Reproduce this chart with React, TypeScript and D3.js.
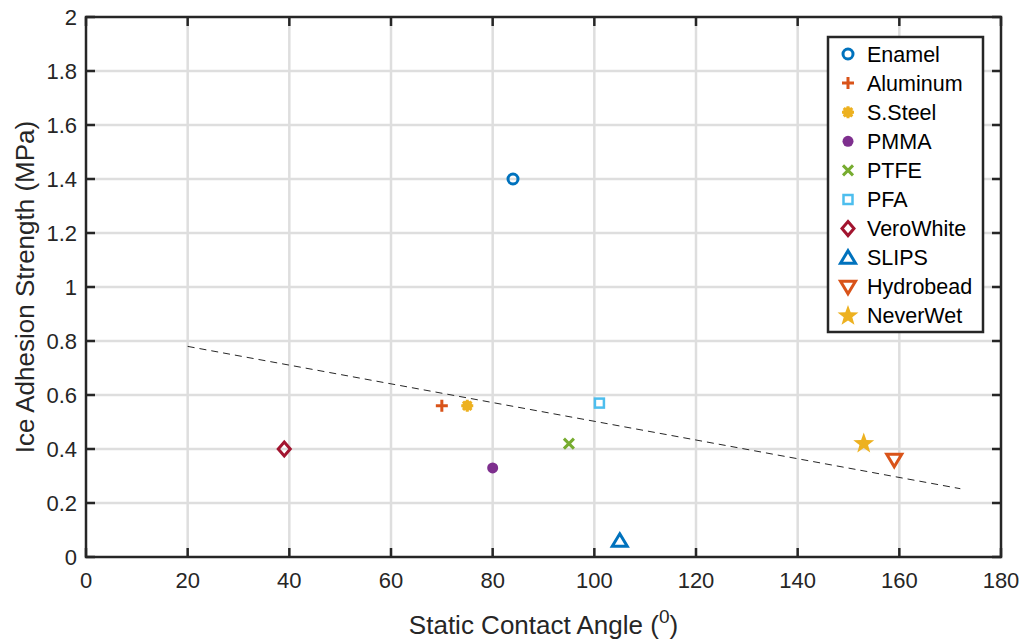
import React from "react";
import * as d3 from "d3";

const names = ["Enamel", "Aluminum", "S.Steel", "PMMA", "PTFE", "PFA", "VeroWhite", "SLIPS", "Hydrobead", "NeverWet"];
const angles = [84, 70, 75, 80, 95, 101, 39, 105, 159, 153];
const strengths = [1.40, 0.56, 0.56, 0.33, 0.42, 0.57, 0.40, 0.06, 0.36, 0.42];
const colors = ["#0072BD", "#D95319", "#EDB120", "#7E2F8E", "#77AC30", "#4DBEEE", "#A2142F", "#0072BD", "#D95319", "#EDB120"];
const markers = ["circle", "plus", "asterisk", "dot", "x", "square", "diamond", "triangle", "triangleDown", "star"];
const trendX = [20, 172];
const trendY = [0.78, 0.253];
const xTicks = [0, 20, 40, 60, 80, 100, 120, 140, 160, 180];
const yTicks = [0, 0.2, 0.4, 0.6, 0.8, 1, 1.2, 1.4, 1.6, 1.8, 2];

const W = 1028, H = 643;
const L = 86, R = 1001, T = 17, B = 557;
const font = "'Liberation Sans', Arial, Helvetica, sans-serif";
const axisColor = "#262626";

function Marker({ type, color, x, y }: { type: string; color: string; x: number; y: number }) {
  const t = `translate(${x},${y})`;
  switch (type) {
    case "circle":
      return <circle transform={t} r={5} fill="none" stroke={color} strokeWidth={3} />;
    case "plus":
      return <path transform={t} d="M-6,0H6M0,-6V6" stroke={color} strokeWidth={3} fill="none" />;
    case "asterisk": {
      const pts = d3.range(8).map((i) => {
        const a = (i * Math.PI) / 4;
        return `M0,0L${(6 * Math.cos(a)).toFixed(2)},${(6 * Math.sin(a)).toFixed(2)}`;
      }).join("");
      return (
        <g transform={t}>
          <circle r={5} fill={color} />
          <path d={pts} stroke={color} strokeWidth={3} />
        </g>
      );
    }
    case "dot":
      return <circle transform={t} r={5.5} fill={color} />;
    case "x":
      return <path transform={t} d="M-5,-5L5,5M-5,5L5,-5" stroke={color} strokeWidth={3} fill="none" />;
    case "square":
      return <rect transform={t} x={-4.5} y={-4.5} width={9} height={9} fill="none" stroke={color} strokeWidth={2.5} />;
    case "diamond":
      return <path transform={t} d="M0,-7L6,0L0,7L-6,0Z" fill="none" stroke={color} strokeWidth={3} />;
    case "triangle":
      return <path transform={t} d="M0,-7L7.5,5.5L-7.5,5.5Z" fill="none" stroke={color} strokeWidth={3} strokeLinejoin="miter" />;
    case "triangleDown":
      return <path transform={t} d="M0,7L7.5,-5.5L-7.5,-5.5Z" fill="none" stroke={color} strokeWidth={3} strokeLinejoin="miter" />;
    case "star": {
      const p = d3.range(10).map((i) => {
        const r = i % 2 === 0 ? 11 : 4.5;
        const a = -Math.PI / 2 + (i * Math.PI) / 5;
        return [r * Math.cos(a), r * Math.sin(a)] as [number, number];
      });
      return <path transform={t} d={d3.line()(p)! + "Z"} fill={color} />;
    }
  }
  return null;
}

export default function App() {
  const x = d3.scaleLinear().domain([0, 180]).range([L, R]);
  const y = d3.scaleLinear().domain([0, 2]).range([B, T]);
  const trend = d3.line<number>().x((d, i) => x(trendX[i])).y((d, i) => y(trendY[i]))(trendX)!;

  const legX = 828, legY = 37, legW = 155, legH = 295;
  const rowH = 29.1;

  return (
    <svg width={W} height={H} style={{ position: "absolute", left: 0, top: 0, background: "#fff" }} fontFamily={font}>
      <rect x={0} y={0} width={W} height={H} fill="#fff" />
      {/* grid */}
      {xTicks.slice(1, -1).map((v) => (
        <line key={"gx" + v} x1={x(v)} x2={x(v)} y1={T} y2={B} stroke="#dedede" strokeWidth={2.5} />
      ))}
      {yTicks.slice(1, -1).map((v) => (
        <line key={"gy" + v} x1={L} x2={R} y1={y(v)} y2={y(v)} stroke="#dedede" strokeWidth={2.5} />
      ))}
      {/* trend */}
      <path d={trend} stroke="#262626" strokeWidth={1} fill="none" strokeDasharray="7,5" />
      {/* points */}
      {names.map((n, i) => (
        <Marker key={n} type={markers[i]} color={colors[i]} x={x(angles[i])} y={y(strengths[i])} />
      ))}
      {/* ticks */}
      {xTicks.map((v) => (
        <g key={"tx" + v}>
          <line x1={x(v)} x2={x(v)} y1={B} y2={B - 9} stroke={axisColor} strokeWidth={2.5} />
          <line x1={x(v)} x2={x(v)} y1={T} y2={T + 9} stroke={axisColor} strokeWidth={2.5} />
          <text x={x(v)} y={B + 31} textAnchor="middle" fontSize={22} fill={axisColor}>{v}</text>
        </g>
      ))}
      {yTicks.map((v) => (
        <g key={"ty" + v}>
          <line x1={L} x2={L + 9} y1={y(v)} y2={y(v)} stroke={axisColor} strokeWidth={2.5} />
          <line x1={R} x2={R - 9} y1={y(v)} y2={y(v)} stroke={axisColor} strokeWidth={2.5} />
          <text x={L - 9} y={y(v) + 8} textAnchor="end" fontSize={22} fill={axisColor}>{String(v)}</text>
        </g>
      ))}
      {/* frame */}
      <rect x={L} y={T} width={R - L} height={B - T} fill="none" stroke={axisColor} strokeWidth={2.5} />
      {/* axis labels */}
      <text x={(L + R) / 2} y={634} textAnchor="middle" fontSize={26} fill={axisColor}>
        Static Contact Angle (<tspan dy={-11} fontSize={19}>0</tspan><tspan dy={11}>)</tspan>
      </text>
      <text transform={`translate(34,${(T + B) / 2}) rotate(-90)`} textAnchor="middle" fontSize={26} fill={axisColor}>
        Ice Adhesion Strength (MPa)
      </text>
      {/* legend */}
      <rect x={legX} y={legY} width={legW} height={legH} fill="#fff" stroke={axisColor} strokeWidth={2.5} />
      {names.map((n, i) => {
        const cy = legY + 17 + i * rowH;
        return (
          <g key={"l" + n}>
            <Marker type={markers[i]} color={colors[i]} x={legX + 20} y={cy} />
            <text x={legX + 39} y={cy + 7.5} fontSize={21.5} fill="#000">{n}</text>
          </g>
        );
      })}
    </svg>
  );
}
